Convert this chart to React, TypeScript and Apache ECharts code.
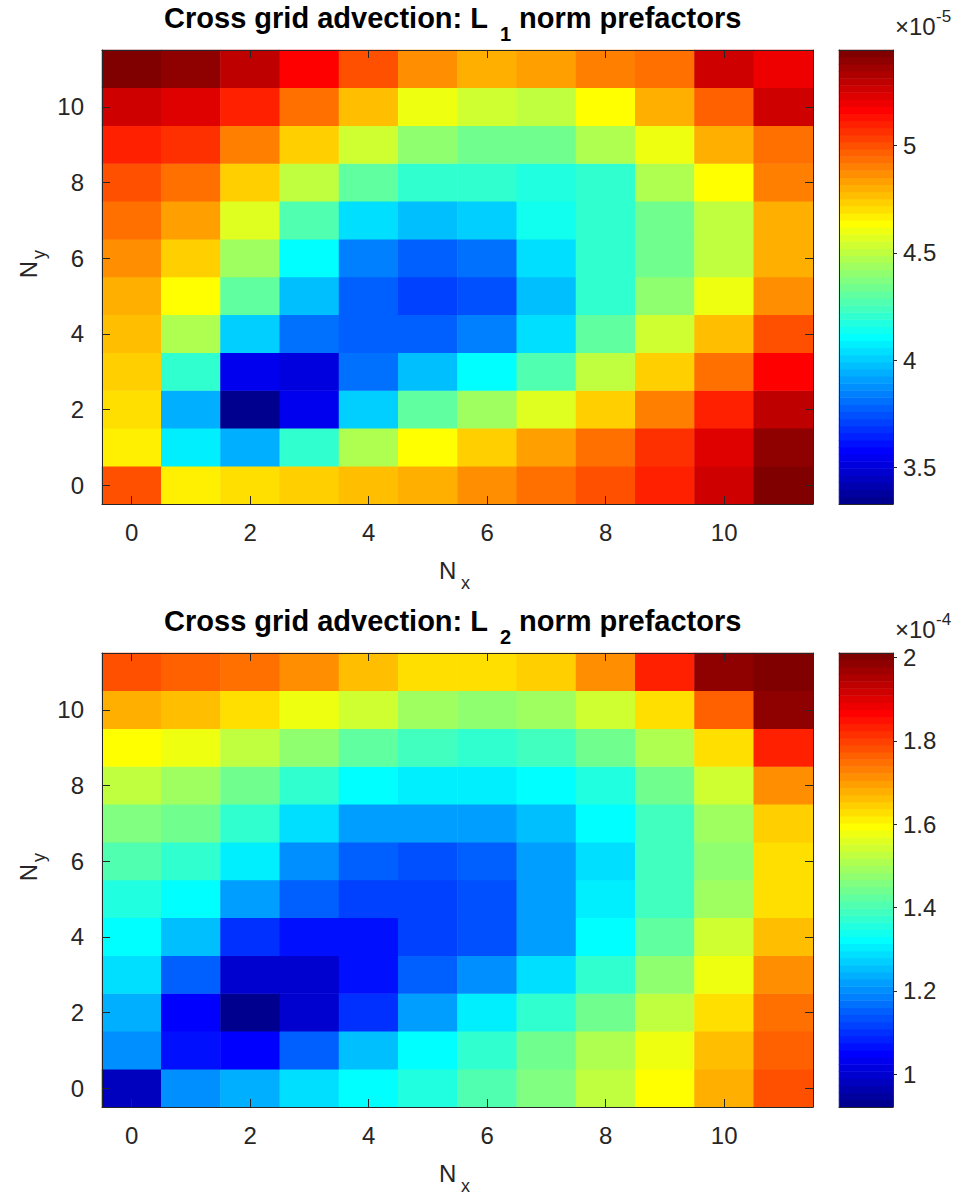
import React, { useEffect, useRef } from 'react';
import * as echarts from 'echarts';

// Grid indices along each direction
const nxLabels = ['0', '1', '2', '3', '4', '5', '6', '7', '8', '9', '10', '11'];
const nyLabels = ['0', '1', '2', '3', '4', '5', '6', '7', '8', '9', '10', '11'];

// L1 norm prefactors (units of 1e-5), one row per N_y from 0 to 11, columns N_x 0..11
const l1Row0 = [4.999, 4.668, 4.701, 4.735, 4.768, 4.801, 4.867, 4.933, 4.999, 5.098, 5.263, 5.445];
const l1Row1 = [4.668, 4.074, 3.941, 4.206, 4.470, 4.635, 4.735, 4.834, 4.933, 5.065, 5.230, 5.395];
const l1Row2 = [4.701, 3.941, 3.330, 3.545, 4.007, 4.305, 4.437, 4.569, 4.735, 4.900, 5.098, 5.296];
const l1Row3 = [4.735, 4.206, 3.545, 3.512, 3.809, 3.974, 4.107, 4.272, 4.503, 4.735, 4.933, 5.164];
const l1Row4 = [4.768, 4.470, 4.007, 3.809, 3.776, 3.776, 3.842, 4.041, 4.305, 4.536, 4.768, 4.999];
const l1Row5 = [4.801, 4.635, 4.305, 3.974, 3.776, 3.710, 3.743, 3.974, 4.206, 4.404, 4.602, 4.867];
const l1Row6 = [4.867, 4.735, 4.437, 4.107, 3.842, 3.776, 3.809, 4.041, 4.206, 4.338, 4.503, 4.801];
const l1Row7 = [4.933, 4.834, 4.569, 4.272, 4.041, 3.974, 4.007, 4.140, 4.206, 4.338, 4.503, 4.801];
const l1Row8 = [4.999, 4.933, 4.735, 4.503, 4.305, 4.206, 4.206, 4.173, 4.206, 4.470, 4.635, 4.900];
const l1Row9 = [5.098, 5.065, 4.900, 4.735, 4.536, 4.404, 4.338, 4.338, 4.470, 4.602, 4.801, 4.933];
const l1Row10 = [5.263, 5.230, 5.098, 4.933, 4.768, 4.602, 4.536, 4.503, 4.635, 4.801, 4.966, 5.263];
const l1Row11 = [5.428, 5.395, 5.296, 5.164, 4.999, 4.867, 4.801, 4.834, 4.900, 4.933, 5.263, 5.197];
const l1Rows = [l1Row0, l1Row1, l1Row2, l1Row3, l1Row4, l1Row5, l1Row6, l1Row7, l1Row8, l1Row9, l1Row10, l1Row11];

// L2 norm prefactors (units of 1e-4)
const l2Row0 = [0.981, 1.202, 1.236, 1.287, 1.321, 1.355, 1.406, 1.457, 1.526, 1.594, 1.679, 1.781];
const l2Row1 = [1.202, 1.066, 1.049, 1.151, 1.253, 1.321, 1.372, 1.440, 1.509, 1.577, 1.662, 1.764];
const l2Row2 = [1.236, 1.049, 0.921, 0.998, 1.100, 1.219, 1.304, 1.372, 1.440, 1.526, 1.628, 1.747];
const l2Row3 = [1.287, 1.151, 0.998, 0.998, 1.066, 1.151, 1.202, 1.287, 1.372, 1.474, 1.577, 1.713];
const l2Row4 = [1.321, 1.253, 1.100, 1.066, 1.066, 1.117, 1.134, 1.219, 1.321, 1.423, 1.543, 1.662];
const l2Row5 = [1.355, 1.321, 1.219, 1.151, 1.117, 1.117, 1.134, 1.219, 1.304, 1.389, 1.492, 1.628];
const l2Row6 = [1.406, 1.372, 1.304, 1.202, 1.151, 1.134, 1.151, 1.219, 1.287, 1.389, 1.474, 1.628];
const l2Row7 = [1.457, 1.440, 1.372, 1.287, 1.219, 1.219, 1.219, 1.253, 1.321, 1.389, 1.492, 1.645];
const l2Row8 = [1.526, 1.492, 1.440, 1.372, 1.321, 1.304, 1.304, 1.321, 1.355, 1.440, 1.543, 1.713];
const l2Row9 = [1.594, 1.577, 1.526, 1.474, 1.423, 1.389, 1.372, 1.389, 1.440, 1.509, 1.628, 1.832];
const l2Row10 = [1.679, 1.662, 1.628, 1.577, 1.543, 1.492, 1.474, 1.492, 1.543, 1.628, 1.764, 1.985];
const l2Row11 = [1.781, 1.764, 1.747, 1.713, 1.662, 1.628, 1.628, 1.645, 1.713, 1.832, 1.985, 2.011];
const l2Rows = [l2Row0, l2Row1, l2Row2, l2Row3, l2Row4, l2Row5, l2Row6, l2Row7, l2Row8, l2Row9, l2Row10, l2Row11];

// Colour limits and colorbar tick labels
const l1Range = [3.33, 5.445];
const l2Range = [0.921, 2.011];
const l1Ticks = [3.5, 4, 4.5, 5];
const l2Ticks = [1, 1.2, 1.4, 1.6, 1.8, 2];

const FONT = '"Liberation Sans", Arial, Helvetica, sans-serif';
const AX = '#262626';
const LEVELS = 64;

// Classic 64-entry jet colormap
function jetColors(m: number): string[] {
  const n = Math.ceil(m / 4);
  const u: number[] = [];
  for (let i = 1; i <= n; i++) u.push(i / n);
  for (let i = 1; i < n; i++) u.push(1);
  for (let i = n; i >= 1; i--) u.push(i / n);
  const g0 = Math.ceil(n / 2) - (m % 4 === 1 ? 1 : 0);
  const rgb = Array.from({ length: m }, () => [0, 0, 0]);
  u.forEach((val, k) => {
    const gi = g0 + k + 1;
    const ri = gi + n;
    const bi = gi - n;
    if (gi >= 1 && gi <= m) rgb[gi - 1][1] = val;
    if (ri >= 1 && ri <= m) rgb[ri - 1][0] = val;
    if (bi >= 1 && bi <= m) rgb[bi - 1][2] = val;
  });
  const hex = (v: number) => Math.round(v * 255).toString(16).padStart(2, '0');
  return rgb.map(([r, g, b]) => '#' + hex(r) + hex(g) + hex(b));
}

function cellData(rows: number[][]) {
  const out: number[][] = [];
  rows.forEach((row, y) => row.forEach((v, x) => out.push([x, y, v])));
  return out;
}

// One cell per colormap entry for the colorbar strip
function barData(range: number[]) {
  const step = (range[1] - range[0]) / LEVELS;
  return Array.from({ length: LEVELS }, (_, k) => [0, k, range[0] + (k + 0.5) * step]);
}

const levelNames = Array.from({ length: LEVELS }, (_, k) => String(k));

const lineStyle = { color: AX, width: 1 };
const labelStyle = { color: AX, fontSize: 24, fontFamily: FONT };

function mapXAxis(gridIndex: number, position: string, labels: boolean) {
  return {
    type: 'category', gridIndex, position, data: nxLabels, z: 10,
    axisLine: { show: true, onZero: false, lineStyle },
    axisTick: { show: true, inside: true, alignWithLabel: true, interval: 1, length: 8, lineStyle },
    axisLabel: { show: labels, interval: 1, margin: 16, ...labelStyle },
    splitLine: { show: false },
  };
}
function mapYAxis(gridIndex: number, position: string, labels: boolean) {
  return {
    type: 'category', gridIndex, position, data: nyLabels, z: 10,
    axisLine: { show: true, onZero: false, lineStyle },
    axisTick: { show: true, inside: true, alignWithLabel: true, interval: 1, length: 8, lineStyle },
    axisLabel: { show: labels, interval: 1, margin: 18, ...labelStyle },
    splitLine: { show: false },
  };
}
function barXAxis(gridIndex: number, position: string) {
  return {
    type: 'category', gridIndex, position, data: [''], z: 10,
    axisLine: { show: true, onZero: false, lineStyle },
    axisTick: { show: false }, axisLabel: { show: false }, splitLine: { show: false },
  };
}
function barLevelAxis(gridIndex: number) {
  return {
    type: 'category', gridIndex, position: 'left', data: levelNames, z: 10,
    axisLine: { show: true, onZero: false, lineStyle },
    axisTick: { show: false }, axisLabel: { show: false }, splitLine: { show: false },
  };
}
function barValueAxis(gridIndex: number, range: number[], ticks: number[]) {
  return {
    type: 'value', gridIndex, position: 'right', min: range[0], max: range[1], z: 10,
    axisLine: { show: true, onZero: false, lineStyle },
    axisTick: { show: true, inside: false, length: 4, customValues: ticks, lineStyle },
    axisLabel: { show: true, customValues: ticks, margin: 10, ...labelStyle },
    splitLine: { show: false },
  };
}

function textEl(x: number, y: number, text: string, size: number, align: string, bold = false) {
  return {
    type: 'text', x, y, z: 20,
    style: {
      text, fontSize: size, fontFamily: FONT, fontWeight: bold ? 'bold' : 'normal',
      fill: bold ? '#000' : AX, align, verticalAlign: 'middle',
    },
  };
}

function panelText(dy: number, sub: string, exponent: string) {
  return [
    // title with subscripted norm index
    textEl(488, 18 + dy, 'Cross grid advection: L', 29, 'right', true),
    textEl(500, 34 + dy, sub, 20, 'left', true),
    textEl(519, 18 + dy, 'norm prefactors', 29, 'left', true),
    // N_x
    textEl(439, 570 + dy, 'N', 24, 'left'),
    textEl(461, 583 + dy, 'x', 18, 'left'),
    // N_y, rotated
    {
      type: 'group', x: 28, y: 265 + dy, rotation: Math.PI / 2,
      children: [
        textEl(4, 0, 'N', 24, 'right'),
        textEl(6, 11, 'y', 18, 'left'),
      ],
    },
    // colorbar exponent
    textEl(895, 26 + dy, '×10', 24, 'left'),
    textEl(936, 16 + dy, exponent, 17, 'left'),
  ];
}

export default function App() {
  const ref = useRef<HTMLDivElement>(null);

  useEffect(() => {
    document.body.style.margin = '0';
    if (!ref.current) return;
    const chart = echarts.init(ref.current, null, { renderer: 'svg' });
    const jet = jetColors(LEVELS);

    chart.setOption({
      animation: false,
      backgroundColor: '#ffffff',
      grid: [
        { left: 102, top: 50, width: 711, height: 454 },
        { left: 839, top: 50, width: 54, height: 454 },
        { left: 102, top: 653, width: 711, height: 454 },
        { left: 839, top: 653, width: 54, height: 454 },
      ],
      xAxis: [
        mapXAxis(0, 'bottom', true),
        mapXAxis(0, 'top', false),
        barXAxis(1, 'bottom'),
        barXAxis(1, 'top'),
        mapXAxis(2, 'bottom', true),
        mapXAxis(2, 'top', false),
        barXAxis(3, 'bottom'),
        barXAxis(3, 'top'),
      ],
      yAxis: [
        mapYAxis(0, 'left', true),
        mapYAxis(0, 'right', false),
        barLevelAxis(1),
        barValueAxis(1, l1Range, l1Ticks),
        mapYAxis(2, 'left', true),
        mapYAxis(2, 'right', false),
        barLevelAxis(3),
        barValueAxis(3, l2Range, l2Ticks),
      ],
      visualMap: [
        {
          type: 'piecewise', show: false, min: l1Range[0], max: l1Range[1],
          splitNumber: LEVELS, inRange: { color: jet }, seriesIndex: [0, 1], dimension: 2,
        },
        {
          type: 'piecewise', show: false, min: l2Range[0], max: l2Range[1],
          splitNumber: LEVELS, inRange: { color: jet }, seriesIndex: [2, 3], dimension: 2,
        },
      ],
      series: [
        { type: 'heatmap', xAxisIndex: 0, yAxisIndex: 0, data: cellData(l1Rows), emphasis: { disabled: true } },
        { type: 'heatmap', xAxisIndex: 2, yAxisIndex: 2, data: barData(l1Range), emphasis: { disabled: true } },
        { type: 'heatmap', xAxisIndex: 4, yAxisIndex: 4, data: cellData(l2Rows), emphasis: { disabled: true } },
        { type: 'heatmap', xAxisIndex: 6, yAxisIndex: 6, data: barData(l2Range), emphasis: { disabled: true } },
      ],
      graphic: [...panelText(0, '1', '-5'), ...panelText(603, '2', '-4')],
    });

    return () => chart.dispose();
  }, []);

  return <div ref={ref} style={{ width: 961, height: 1199 }} />;
}
